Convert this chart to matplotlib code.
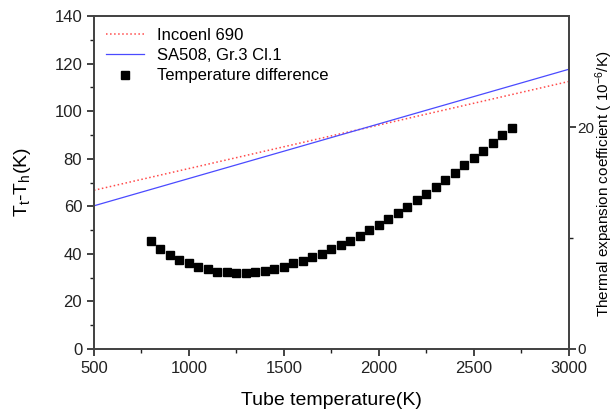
import matplotlib.pyplot as plt
import numpy as np

plt.rcParams['font.family'] = ['Liberation Sans', 'DejaVu Sans']
plt.rcParams['mathtext.default'] = 'regular'

# Temperature difference (left axis)
tube_temp = np.arange(800, 2701, 50)
temp_diff = [45.4, 42.2, 39.5, 37.3, 36.1, 34.5, 33.5, 32.5, 32.5, 32.1,
             32.1, 32.5, 32.9, 33.8, 34.5, 36.1, 37.0, 38.5, 39.9, 42.0,
             43.6, 45.4, 47.6, 50.0, 52.0, 54.5, 57.0, 59.7, 62.5, 65.2,
             68.2, 71.0, 74.1, 77.2, 80.3, 83.1, 86.7, 90.1, 93.0]

# Thermal expansion coefficient lines (right axis, 10^-6/K)
line_x = [500, 3000]
inconel_alpha = [14.3, 24.1]
sa508_alpha = [12.9, 25.2]

fig = plt.figure(figsize=(6.14, 4.12), dpi=100)
ax = fig.add_axes([0.153, 0.153, 0.773, 0.808])
ax2 = ax.twinx()

l1, = ax2.plot(line_x, inconel_alpha, ':', color='#ff4a4a', lw=1.1, label='Incoenl 690')
l2, = ax2.plot(line_x, sa508_alpha, '-', color='#4a4aff', lw=0.9, label='SA508, Gr.3 Cl.1')
l3, = ax.plot(tube_temp, temp_diff, 's', color='black', ms=6, ls='none',
              label='Temperature difference')
ax.set_zorder(ax2.get_zorder() + 1)
ax.patch.set_visible(False)

ax.set_xlim(500, 3000)
ax.set_ylim(0, 140)
ax2.set_ylim(0, 30)

ax.set_xticks(np.arange(500, 3001, 500))
ax.set_xticks(np.arange(750, 3000, 500), minor=True)
ax.set_yticks(np.arange(0, 141, 20))
ax.set_yticks(np.arange(10, 140, 20), minor=True)
ax2.set_yticks([0, 20])
ax2.set_yticks([10], minor=True)

for a in (ax, ax2):
    a.tick_params(which='major', direction='out', length=5, width=1.2,
                  labelsize=12, colors='#222222')
    a.tick_params(which='minor', direction='out', length=3, width=1.0,
                  colors='#222222')
    for s in a.spines.values():
        s.set_linewidth(1.3)
        s.set_color('#444444')
ax2.tick_params(labelsize=11, pad=1.5)

ax.set_xlabel('Tube temperature(K)', fontsize=14, labelpad=12)
ax.set_ylabel('T$_t$-T$_h$(K)', fontsize=14, labelpad=15)
fig.text(604 / 614, (412 - 184) / 412, 'Thermal expansion coefficient ( 10$^{-6}$/K)',
         rotation=90, ha='center', va='center', fontsize=11)

ax.legend(handles=[l1, l2, l3], loc='upper left', frameon=False, fontsize=12,
          handlelength=2.3, borderaxespad=0.3, labelspacing=0.32,
          bbox_to_anchor=(0.0, 1.0))

fig.savefig('out.png', dpi=100)
